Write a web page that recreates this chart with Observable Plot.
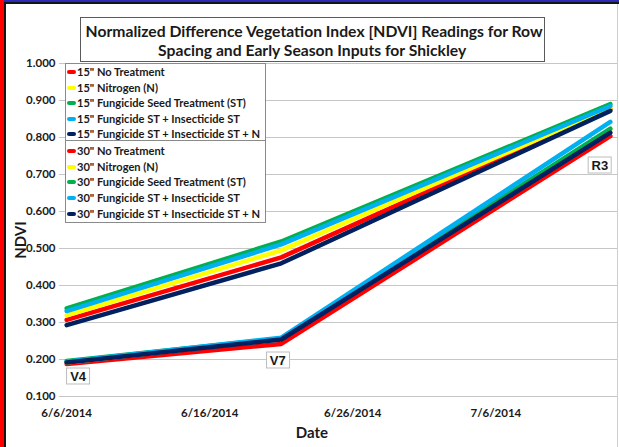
<!DOCTYPE html>
<html>
<head>
<meta charset="utf-8">
<script src="https://cdn.jsdelivr.net/npm/d3@7"></script>
<script src="https://cdn.jsdelivr.net/npm/@observablehq/plot@0.6"></script>
<style>
  html, body { margin: 0; padding: 0; background: #fff; }
  #wrap { position: relative; width: 619px; height: 447px; overflow: hidden; background: #fff; font-family: Lato, "Open Sans", sans-serif; color: #1a1a1a; }
  #wrap svg { position: absolute; left: 0; top: 0; }
  .abs { position: absolute; }
  .title { left: 80px; top: 17px; width: 463px; height: 43px; border: 1px solid #5a5a5a; background: #fff; box-sizing: content-box; }
  .tline { position: absolute; left: 0; width: 100%; text-align: center; white-space: nowrap; font-size: 16px; font-weight: 700; line-height: 17px; }
  .tline span { display: inline-block; transform-origin: center center; }
  .lbox { position: absolute; left: 65px; width: 199px; border: 1px solid #8a8a8a; background: #fff; }
  .lrow { position: absolute; left: 67px; height: 14px; white-space: nowrap; font-size: 12px; font-weight: 700; line-height: 14px; }
  .lrow .sw { display: inline-block; width: 9px; height: 4px; border-radius: 2px; vertical-align: middle; margin-top: -2px; }
  .lrow .tx { display: inline-block; transform-origin: left center; margin-left: 1px; }
  .stage { position: absolute; background: #fff; border: 1px solid #bdbdbd; font-family: "Liberation Sans", Arial, sans-serif; font-weight: 700; font-size: 13px; line-height: 15px; padding: 0 3px; transform: translate(-50%, -50%); }
  .axlab { position: absolute; font-weight: 700; font-size: 15px; white-space: nowrap; }
</style>
</head>
<body>
<div id="wrap"></div>
<script>
// ---------- data ----------
const dates = ["2014-06-06", "2014-06-21", "2014-07-14"];
const stageLabels = ["V4", "V7", "R3"];

const seriesNames = [
  '15" No Treatment',
  '15" Nitrogen (N)',
  '15" Fungicide Seed Treatment (ST)',
  '15" Fungicide ST + Insecticide ST',
  '15" Fungicide ST + Insecticide ST + N',
  '30" No Treatment',
  '30" Nitrogen (N)',
  '30" Fungicide Seed Treatment (ST)',
  '30" Fungicide ST + Insecticide ST',
  '30" Fungicide ST + Insecticide ST + N'
];
const seriesColors = ["#ff0000", "#ffff00", "#00b050", "#00b0f0", "#002060",
                      "#ff0000", "#ffff00", "#00b050", "#00b0f0", "#002060"];

const row15NoTreatment   = [0.307, 0.476, 0.877];
const row15Nitrogen      = [0.319, 0.495, 0.880];
const row15FungicideST   = [0.338, 0.519, 0.890];
const row15FungInsect    = [0.331, 0.511, 0.885];
const row15FungInsectN   = [0.293, 0.460, 0.872];
const row30NoTreatment   = [0.188, 0.242, 0.804];
const row30Nitrogen      = [0.192, 0.256, 0.822];
const row30FungicideST   = [0.196, 0.257, 0.824];
const row30FungInsect    = [0.194, 0.259, 0.842];
const row30FungInsectN   = [0.192, 0.254, 0.813];

const seriesValues = [row15NoTreatment, row15Nitrogen, row15FungicideST, row15FungInsect, row15FungInsectN,
                      row30NoTreatment, row30Nitrogen, row30FungicideST, row30FungInsect, row30FungInsectN];

const xTickDates = ["2014-06-06", "2014-06-16", "2014-06-26", "2014-07-06"];
const yTicks = [0.1, 0.2, 0.3, 0.4, 0.5, 0.6, 0.7, 0.8, 0.9, 1.0];

const titleLines = ["Normalized Difference Vegetation Index [NDVI] Readings for Row",
                    "Spacing and Early Season Inputs for Shickley"];
const xLabel = "Date";
const yLabel = "NDVI";

// ---------- build ----------
const parse = s => new Date(s + "T00:00:00Z");
const rows = seriesNames.flatMap((s, i) => dates.map((d, j) => ({series: s, date: parse(d), value: seriesValues[i][j]})));
const halfDay = 12 * 3600 * 1000;
const xMin = new Date(parse(dates[0]).getTime() - halfDay);
const xMax = new Date(parse(dates[dates.length - 1]).getTime() + halfDay);
const fmtDate = d => `${d.getUTCMonth() + 1}/${d.getUTCDate()}/${d.getUTCFullYear()}`;

const plot = Plot.plot({
  width: 619, height: 447,
  marginTop: 63, marginBottom: 51, marginLeft: 59, marginRight: 2,
  style: {fontFamily: "Lato, 'Open Sans', sans-serif", fontSize: "11.5px", fontWeight: "bold", color: "#1a1a1a", background: "transparent", overflow: "visible"},
  x: {type: "utc", domain: [xMin, xMax], ticks: xTickDates.map(parse), tickFormat: fmtDate, tickSize: 0, tickPadding: 12, label: null},
  y: {domain: [0.1, 1.0], ticks: yTicks, tickFormat: d3.format(".3f"), tickSize: 0, tickPadding: 4, label: null},
  color: {domain: seriesNames, range: seriesColors},
  marks: [
    Plot.ruleY(yTicks, {stroke: "#c6c6c6", strokeWidth: 1}),
    Plot.line(rows, {x: "date", y: "value", z: "series", stroke: "series", strokeWidth: 4.5, strokeLinejoin: "round", strokeLinecap: "round"})
  ]
});

const wrap = document.getElementById("wrap");
wrap.appendChild(plot);
const sx = plot.scale("x"), sy = plot.scale("y");

function add(cls, styles, html) {
  const el = document.createElement("div");
  el.className = cls;
  Object.assign(el.style, styles);
  if (html != null) el.innerHTML = html;
  wrap.appendChild(el);
  return el;
}

// frame decorations
add("abs", {left: "0px", top: "0px", width: "619px", height: "2px", background: "#2b2bb3"});
add("abs", {left: "4px", top: "2px", width: "615px", height: "2px", background: "#151515"});
add("abs", {left: "0px", top: "0px", width: "4px", height: "447px", background: "#ff0000"});
add("abs", {left: "4px", top: "2px", width: "2px", height: "445px", background: "#151515"});
add("abs", {left: "617px", top: "4px", width: "1px", height: "443px", background: "#cfcfcf"});

// title
const tbox = add("abs title", {});
const t1 = document.createElement("div"); t1.className = "tline"; t1.style.top = "4px"; t1.innerHTML = `<span>${titleLines[0]}</span>`;
const t2 = document.createElement("div"); t2.className = "tline"; t2.style.top = "23px"; t2.innerHTML = `<span>${titleLines[1]}</span>`;
tbox.appendChild(t1); tbox.appendChild(t2);
const tw = t1.firstChild.getBoundingClientRect().width;
const tscale = 457 / tw;
[t1, t2].forEach(t => t.firstChild.style.transform = `scaleX(${tscale})`);

// legends
const box1 = add("lbox", {top: "63px", height: "77px"});
const box2 = add("lbox", {top: "140px", height: "81px"});
const rowTops = [72, 87.6, 103.2, 118.8, 134.4, 151, 166.7, 182.4, 198.1, 213.8];
const texts = [];
seriesNames.forEach((s, i) => {
  const r = add("lrow", {top: (rowTops[i] - 7) + "px"},
    `<span class="sw" style="background:${seriesColors[i]}"></span><span class="tx">${s}</span>`);
  texts.push(r.querySelector(".tx"));
});
const longest = Math.max(...texts.map(t => t.getBoundingClientRect().width));
const lscale = 183 / longest;
texts.forEach(t => t.style.transform = `scaleX(${lscale})`);

// stage labels (anchored to data dates and the lowest series value there)
const stageOffsets = [[12, 13], [-3, 17], [-10, 29]];
stageLabels.forEach((lab, j) => {
  const d = parse(dates[j]);
  const lo = Math.min(...seriesValues.map(v => v[j]));
  const px = sx.apply(d) + stageOffsets[j][0];
  const py = sy.apply(lo) + stageOffsets[j][1];
  add("stage", {left: px + "px", top: py + "px"}, lab);
});

// axis titles
add("axlab", {left: "312px", top: "432px", transform: "translate(-50%,-50%)"}, xLabel);
add("axlab", {left: "20px", top: "240px", fontSize: "15px", transform: "translate(-50%,-50%) rotate(-90deg)"}, yLabel);
</script>
</body>
</html>
